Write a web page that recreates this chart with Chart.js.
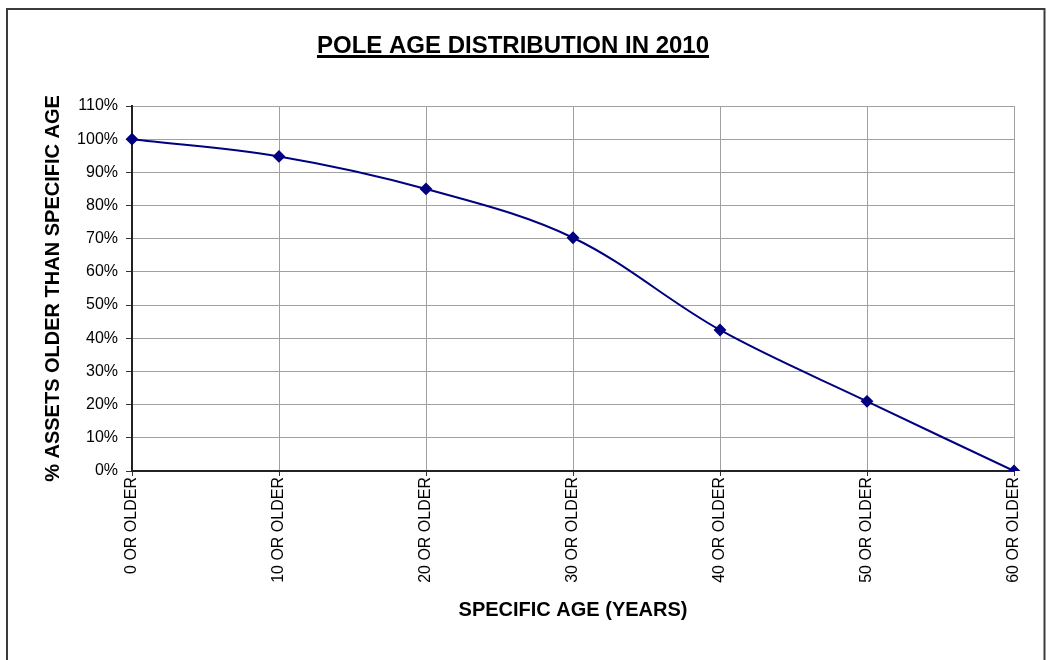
<!DOCTYPE html>
<html>
<head>
<meta charset="utf-8">
<title>Pole Age Distribution</title>
<script src="https://cdn.jsdelivr.net/npm/chart.js@4.4.1/dist/chart.umd.min.js"></script>
<style>
  html, body { margin: 0; padding: 0; background: #fff; }
  #wrap { position: relative; width: 1047px; height: 660px; }
</style>
</head>
<body>
<div id="wrap"><canvas id="poleChart"></canvas></div>
<script>
// age buckets along the x axis
const ageLabels = ['0 OR OLDER', '10 OR OLDER', '20 OR OLDER', '30 OR OLDER', '40 OR OLDER', '50 OR OLDER', '60 OR OLDER'];
// share of the pole population at least that old (%)
const pctOlder = [100, 94.8, 85, 70.3, 42.5, 21, 0];
// y axis range / step (%)
const yMin = 0;
const yMax = 110;
const yStep = 10;

const chartTitle = 'POLE AGE DISTRIBUTION IN 2010';
const FONT = "'Liberation Sans', Arial, Helvetica, sans-serif";

Chart.defaults.font.family = FONT;
Chart.defaults.color = '#000';

// white background, outer frame, and the underlined heading
const frameAndTitle = {
  id: 'frameAndTitle',
  beforeDraw(chart) {
    const ctx = chart.ctx;
    ctx.save();
    ctx.fillStyle = '#fff';
    ctx.fillRect(0, 0, chart.width, chart.height);
    ctx.strokeStyle = '#3c3c3c';
    ctx.lineWidth = 2;
    ctx.strokeRect(7, 9, 1037.5, 700);
    ctx.restore();
  },
  afterDraw(chart) {
    const ctx = chart.ctx;
    ctx.save();
    ctx.font = 'bold 24px ' + FONT;
    ctx.fillStyle = '#000';
    ctx.textAlign = 'center';
    ctx.textBaseline = 'alphabetic';
    const cx = 513;
    ctx.fillText(chartTitle, cx, 53);
    const w = ctx.measureText(chartTitle).width;
    ctx.fillRect(cx - w / 2, 55, w, 3);
    ctx.restore();
  }
};

new Chart(document.getElementById('poleChart'), {
  type: 'line',
  data: {
    labels: ageLabels,
    datasets: [{
      data: pctOlder,
      borderColor: '#000080',
      backgroundColor: '#000080',
      borderWidth: 2,
      tension: 0.35,
      pointStyle: 'rectRot',
      pointRadius: 5,
      pointHoverRadius: 5,
      pointBackgroundColor: '#000080',
      pointBorderColor: '#000080',
      fill: false
    }]
  },
  options: {
    responsive: true,
    maintainAspectRatio: false,
    animation: false,
    layout: { padding: { left: 30, right: 33, top: 106, bottom: 30 } },
    plugins: {
      legend: { display: false },
      tooltip: { enabled: false },
      title: { display: false }
    },
    scales: {
      x: {
        type: 'category',
        offset: false,
        grid: { color: '#a0a0a0', lineWidth: 1, offset: false, tickLength: 5, tickColor: '#333' },
        border: { color: '#222', width: 2 },
        ticks: {
          autoSkip: false,
          maxRotation: 90,
          minRotation: 90,
          padding: 1,
          font: { size: 16 },
          color: '#000'
        },
        title: {
          display: true,
          text: 'SPECIFIC AGE (YEARS)',
          font: { size: 20, weight: 'bold' },
          color: '#000',
          padding: { top: 0, bottom: 8 }
        },
        afterFit(scale) { scale.height = 159; }
      },
      y: {
        min: yMin,
        max: yMax,
        grid: { color: '#a0a0a0', lineWidth: 1, tickLength: 6, tickColor: '#333' },
        border: { color: '#222', width: 2 },
        ticks: {
          stepSize: yStep,
          padding: 8,
          font: { size: 16 },
          color: '#000',
          callback: v => v + '%'
        },
        title: {
          display: true,
          text: '% ASSETS OLDER THAN SPECIFIC AGE',
          font: { size: 20, weight: 'bold' },
          color: '#000',
          padding: { top: 11, bottom: 0 }
        },
        afterFit(scale) { scale.width = 102; }
      }
    }
  },
  plugins: [frameAndTitle]
});
</script>
</body>
</html>
